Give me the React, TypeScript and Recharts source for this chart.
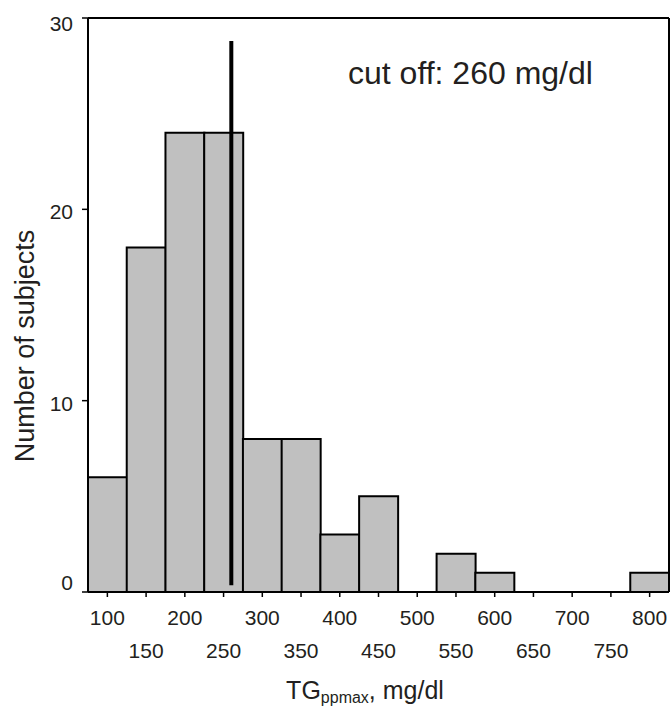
import React from 'react';
import { ComposedChart, Bar, XAxis, YAxis, ReferenceLine, Label } from 'recharts';

// ---- data ----
const binCenters = [100, 150, 200, 250, 300, 350, 400, 450, 500, 550, 600, 650, 700, 750, 800];
const subjectCounts = [6, 18, 24, 24, 8, 8, 3, 5, 0, 2, 1, 0, 0, 0, 1];
const xTicks = [100, 150, 200, 250, 300, 350, 400, 450, 500, 550, 600, 650, 700, 750, 800];
const yTicks = [0, 10, 20, 30];
const xDomain = [75, 825];
const yDomain = [0, 30];
const cutoffSegment = [
  { x: 260, y: 0.35 },
  { x: 260, y: 28.8 },
];
const cutoffText = 'cut off: 260 mg/dl';
const yAxisTitle = 'Number of subjects';
const xAxisTitleMain = 'TG';
const xAxisTitleSub = 'ppmax';
const xAxisTitleRest = ', mg/dl';

const data = binCenters.map((c, i) => ({ tg: c, count: subjectCounts[i] }));

const FONT = '"Liberation Sans", Arial, Helvetica, sans-serif';
const TXT = '#231f20';

const yLabelShift: Record<number, number> = { 0: -10, 10: 3, 20: 2, 30: 5 };

const XTick = (props: any) => {
  const { x, y, payload } = props;
  const second = payload.value % 100 !== 0;
  return (
    <text
      x={x}
      y={y + (second ? 51 : 18)}
      textAnchor="middle"
      dominantBaseline="central"
      fontSize={21}
      fontFamily={FONT}
      fill={TXT}
    >
      {payload.value}
    </text>
  );
};

const YTick = (props: any) => {
  const { x, y, payload } = props;
  return (
    <text
      x={x - 7}
      y={y + (yLabelShift[payload.value] || 0)}
      textAnchor="end"
      dominantBaseline="central"
      fontSize={21}
      fontFamily={FONT}
      fill={TXT}
    >
      {payload.value}
    </text>
  );
};

const YTitle = () => (
  <text
    x={25}
    y={346}
    transform="rotate(-90, 25, 346)"
    textAnchor="middle"
    dominantBaseline="central"
    fontSize={27}
    fontFamily={FONT}
    fill={TXT}
  >
    {yAxisTitle}
  </text>
);

const XTitle = () => (
  <text x={365} y={699} textAnchor="middle" fontSize={25} fontFamily={FONT} fill={TXT}>
    {xAxisTitleMain}
    <tspan fontSize={16} dy={4}>{xAxisTitleSub}</tspan>
    <tspan dy={-4}>{xAxisTitleRest}</tspan>
  </text>
);

const CutoffLabel = () => (
  <text x={348} y={73} dominantBaseline="central" fontSize={32} fontFamily={FONT} fill={TXT}>
    {cutoffText}
  </text>
);

export default function App() {
  return (
    <div style={{ position: 'absolute', left: 0, top: 0, background: '#fff' }}>
      <ComposedChart
        width={670}
        height={706}
        data={data}
        margin={{ top: 18, right: 1, left: 0, bottom: 0 }}
        barCategoryGap={0}
        barGap={0}
      >
        <XAxis
          dataKey="tg"
          type="number"
          domain={xDomain}
          ticks={xTicks}
          interval={0}
          height={114}
          stroke="#000"
          axisLine={{ stroke: '#000', strokeWidth: 2 }}
          tickLine={{ stroke: '#000', strokeWidth: 1.5 }}
          tickSize={5}
          tick={<XTick />}
          allowDataOverflow
        >
          <Label content={<XTitle />} />
        </XAxis>
        <YAxis
          type="number"
          domain={yDomain}
          ticks={yTicks}
          width={88}
          axisLine={{ stroke: '#000', strokeWidth: 2 }}
          tickLine={{ stroke: '#000', strokeWidth: 1.5 }}
          tickSize={6}
          tick={<YTick />}
          allowDataOverflow
        >
          <Label content={<YTitle />} />
        </YAxis>
        <Bar
          dataKey="count"
          fill="#c0c0c0"
          stroke="#000"
          strokeWidth={2}
          isAnimationActive={false}
        />
        <ReferenceLine y={30} stroke="#000" strokeWidth={2} ifOverflow="visible">
          <Label content={<CutoffLabel />} />
        </ReferenceLine>
        <ReferenceLine x={825} stroke="#000" strokeWidth={2} ifOverflow="visible" />
        <ReferenceLine segment={cutoffSegment} stroke="#000" strokeWidth={4} ifOverflow="visible" />
      </ComposedChart>
    </div>
  );
}
